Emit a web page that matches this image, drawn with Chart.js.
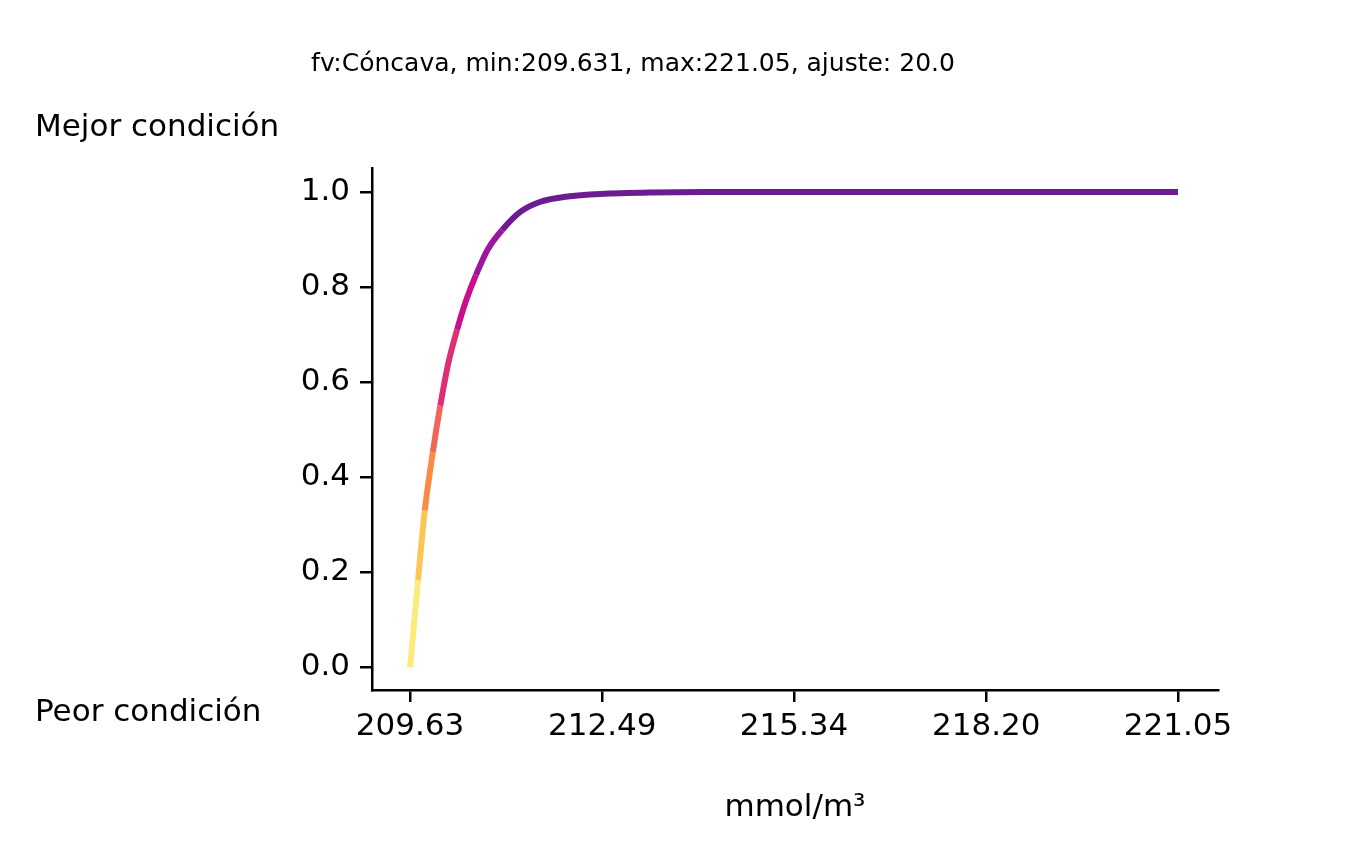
<!DOCTYPE html>
<html><head><meta charset="utf-8">
<script src="https://cdn.jsdelivr.net/npm/chart.js@4"></script>
<style>html,body{margin:0;background:#fff}#w{width:1353px;height:843px}</style>
</head><body><div id="w"><canvas id="c"></canvas></div>
<script>
const xValues=[209.631,209.75,209.85,209.97,210.08,210.20,210.33,210.46,210.61,210.79,211.0,211.27,211.56,211.94,212.46,213.2,214.02,216.0,218.0,221.05];
const yValues=[0,0.183,0.33,0.453,0.55,0.64,0.71,0.77,0.825,0.88,0.92,0.958,0.979,0.99,0.996,0.999,1.0,1.0,1.0,1.0];
const xTicks=[209.63,212.49,215.34,218.20,221.05];
const yTicks=[0,0.2,0.4,0.6,0.8,1.0];
const colorStops=[[0.18,'#fdea7c'],[0.33,'#fcc655'],[0.45,'#f88c44'],[0.55,'#f0645a'],[0.70,'#dd2f78'],[0.80,'#c90f8e'],[0.90,'#9c179e'],[1.01,'#6c1c92']];
function col(y){for(const [t,c] of colorStops) if(y<t-1e-6) return c; return '#6c1c92';}
const F='"DejaVu Sans", sans-serif';
const deco={id:'deco',afterDraw(ch){const c=ch.ctx;c.save();c.fillStyle='#000';c.textBaseline='middle';
c.font='25px '+F;c.textAlign='center';c.fillText('fv:Cóncava, min:209.631, max:221.05, ajuste: 20.0',633,64);
c.font='31px '+F;c.textAlign='left';c.fillText('Mejor condición',35,128);c.fillText('Peor condición',35,713);
c.textAlign='center';c.fillText('mmol/m³',795,808);c.restore();}};
new Chart(document.getElementById('c'),{type:'line',
data:{datasets:[{data:xValues.map((x,i)=>({x,y:yValues[i]})),borderWidth:6,pointRadius:0,tension:0.25,
segment:{borderColor:ctx=>col(ctx.p0.parsed.y)},borderColor:'#6c1c92'}]},
options:{responsive:true,maintainAspectRatio:false,animation:false,
layout:{padding:{top:168,right:135,left:0,bottom:0}},
plugins:{legend:{display:false},tooltip:{enabled:false}},
scales:{
x:{type:'linear',min:209.065,max:221.645,afterFit(s){s.height=153;},
afterBuildTicks(s){s.ticks=xTicks.map(v=>({value:v}));},
ticks:{color:'#000',font:{size:31,family:F},maxRotation:0,padding:6,callback:v=>v.toFixed(2),autoSkip:false},
grid:{drawOnChartArea:false,drawTicks:true,tickLength:12,color:'#000',lineWidth:2.5},border:{color:'#000',width:2.5}},
y:{type:'linear',min:-0.048,max:1.0505,afterFit(s){s.width=372;},
afterBuildTicks(s){s.ticks=yTicks.map(v=>({value:v}));},
ticks:{color:'#000',font:{size:31,family:F},padding:10,callback:v=>v.toFixed(1)},
grid:{drawOnChartArea:false,drawTicks:true,tickLength:12,color:'#000',lineWidth:2.5},border:{color:'#000',width:2.5}}}},
plugins:[deco]});
</script></body></html>
